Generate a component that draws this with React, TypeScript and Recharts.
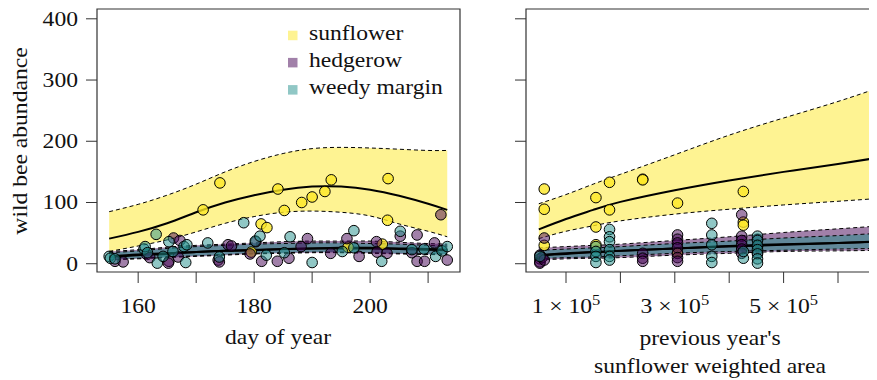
import React from 'react';
import { ComposedChart, Area, Line, Scatter, XAxis, YAxis, ReferenceArea } from 'recharts';

// ---------- colours ----------
const SUN = '#FDE725';
const HEDGE = '#440154';
const WEEDY = '#21908C';

// ---------- left panel: curves over day of year ----------
const dayGrid = [155, 160, 165, 170, 175, 180, 185, 190, 195, 200, 205, 210, 213.3];
const daySunFit = [41, 52, 66, 84, 100, 112, 121, 126, 126, 121, 111, 98, 88];
const daySunLo = [20, 29, 39, 52, 66, 77, 84, 86, 84, 78, 65, 53, 44];
const daySunHi = [85, 97, 112, 130, 150, 167, 180, 188, 190, 189, 187, 185, 185];
const dayHedgeFit = [12, 15, 17, 19, 21, 23, 24, 25, 26, 26, 25, 24, 23];
const dayHedgeLo = [6, 8, 10, 12, 14, 16, 17, 18, 18, 17, 16, 15, 15];
const dayHedgeHi = [20, 23, 27, 30, 32, 34, 36, 37, 37, 37, 35, 33, 32];
const dayWeedyFit = [11, 14, 16, 19, 21, 22, 24, 25, 25, 25, 24, 23, 22];
const dayWeedyLo = [7, 9, 11, 13, 15, 17, 18, 19, 19, 18, 17, 16, 16];
const dayWeedyHi = [18, 21, 25, 28, 30, 32, 33, 34, 34, 33, 32, 30, 29];

// ---------- left panel: observations (day, abundance) ----------
const daySunPts = [
  [174.1, 132], [184.1, 122], [193.3, 137], [203.1, 139], [192.2, 118], [190, 109], [188.2, 100],
  [171.2, 88], [185.2, 87], [203, 71], [181.2, 65], [182.2, 59], [179.5, 19], [202.1, 32], [196.2, 27],
];
const dayHedgePts = [
  [156, 4], [157.4, 3], [161.5, 15], [162, 10], [165.3, 4], [165.2, 1], [166.1, 42], [167.2, 38],
  [166.9, 11], [173.8, 6], [174, 3], [175.5, 31], [176.1, 29], [179.3, 16], [180.3, 36], [181.3, 4],
  [184, 4], [186, 9], [188.1, 28], [189.2, 41], [193.2, 17], [196, 41], [198.1, 12], [201.1, 36],
  [201.2, 19], [202.9, 17], [205.2, 45], [208.1, 47], [207.2, 18], [208.1, 4], [209.4, 4], [211.1, 34],
  [213.3, 6], [212.2, 80],
];
const dayWeedyPts = [
  [155, 12], [155.2, 9], [156, 8], [161, 24], [161.2, 28], [161.6, 18], [163.3, 1], [163.1, 48],
  [164.3, 12], [165.3, 36], [166, 20], [167.9, 28], [168.4, 31], [168.2, 2], [172, 34], [174, 11],
  [178.2, 67], [180.2, 37], [181, 45], [182.1, 14], [185.2, 18], [186.2, 44], [190, 2], [195.2, 20],
  [197.2, 54], [197.2, 26], [202, 4], [205.2, 53], [207.2, 23], [209.3, 24], [211.3, 12], [212.4, 21],
  [213.3, 28],
];

// ---------- right panel: curves over previous year's sunflower area ----------
const areaGrid = [50000, 100000, 150000, 200000, 300000, 400000, 500000, 600000, 680000];
const areaSunFit = [56, 73, 88, 101, 120, 136, 150, 163, 174];
const areaSunLo = [41, 53, 62, 70, 81, 89, 96, 102, 107];
const areaSunHi = [98, 113, 130, 146, 178, 210, 238, 265, 289];
const areaHedgeFit = [14, 17, 19, 21, 25, 29, 32, 34, 37];
const areaHedgeLo = [6, 8, 9, 10, 14, 17, 20, 21, 22];
const areaHedgeHi = [26, 28, 30, 32, 38, 44, 51, 57, 62];
const areaWeedyFit = [14, 16, 19, 21, 25, 28, 31, 34, 36];
const areaWeedyLo = [8, 10, 11, 13, 17, 20, 22, 24, 25];
const areaWeedyHi = [22, 24, 26, 28, 33, 37, 42, 46, 50];

// ---------- right panel: observations (area, abundance) ----------
const areaSunPts = [
  [60000, 122], [60000, 89], [60000, 30], [155000, 108], [155000, 60], [155000, 31], [180000, 133],
  [180000, 88], [241000, 138], [241000, 137], [305000, 99], [305000, 17], [426000, 118], [426000, 68],
  [426000, 63],
];
const areaHedgePts = [
  [52000, 14], [52000, 8], [52000, 3], [52000, 1], [56000, 10], [60000, 42], [60000, 6],
  [241000, 17], [241000, 9], [241000, 4], [305000, 47], [305000, 40], [305000, 34], [305000, 26],
  [305000, 17], [305000, 10], [305000, 4], [423000, 80], [423000, 45], [423000, 38], [423000, 31],
  [423000, 24], [423000, 17], [452000, 40], [452000, 28], [452000, 18],
];
const areaWeedyPts = [
  [52000, 12], [155000, 28], [155000, 20], [155000, 12], [155000, 2], [180000, 56], [180000, 44],
  [180000, 36], [180000, 23], [180000, 12], [180000, 6], [368000, 66], [368000, 47], [368000, 31],
  [368000, 12], [368000, 2], [426000, 9], [426000, 20], [452000, 45], [452000, 38], [452000, 30],
  [452000, 23], [452000, 16], [452000, 8], [452000, 1], [668000, 56], [668000, 42], [668000, 28],
  [668000, 17], [668000, 9],
];

// ---------- ticks & labels ----------
const yTicks = [0, 100, 200, 300, 400];
const dayTicks = [160, 170, 180, 190, 200, 210];
const dayLabelled = [160, 180, 200];
const areaTicks = [100000, 200000, 300000, 400000, 500000, 600000, 700000];
const areaLabelled = [100000, 300000, 500000];
const legendItems = [
  { label: 'sunflower', color: SUN },
  { label: 'hedgerow', color: HEDGE },
  { label: 'weedy margin', color: WEEDY },
];

const Y_DOMAIN: [number, number] = [-13.5, 416];
const DAY_DOMAIN: [number, number] = [152.9, 215.5];
const AREA_DOMAIN: [number, number] = [26470, 702940];

const FONT = '"Liberation Serif", "Times New Roman", serif';
const FS = 20;
const SX = 1.18;

function buildCurves(grid: number[], s: number[][]) {
  return grid.map((x, i) => ({
    x,
    sunFit: s[0][i], sunLo: s[1][i], sunHi: s[2][i],
    hedgeFit: s[3][i], hedgeLo: s[4][i], hedgeHi: s[5][i],
    weedyFit: s[6][i], weedyLo: s[7][i], weedyHi: s[8][i],
  }));
}
const dayCurves = buildCurves(dayGrid, [daySunFit, daySunLo, daySunHi, dayHedgeFit, dayHedgeLo, dayHedgeHi, dayWeedyFit, dayWeedyLo, dayWeedyHi]);
const areaCurves = buildCurves(areaGrid, [areaSunFit, areaSunLo, areaSunHi, areaHedgeFit, areaHedgeLo, areaHedgeHi, areaWeedyFit, areaWeedyLo, areaWeedyHi]);
const toXY = (pts: number[][]) => pts.map(([x, y]) => ({ x, y }));

function ValTick(props: any) {
  const { x, y, payload } = props;
  return (
    <text transform={`translate(${x - 6},${y + 7}) scale(${SX},1)`} textAnchor="end" fontFamily={FONT} fontSize={FS} fill="#111">
      {payload.value}
    </text>
  );
}
function EmptyTick() {
  return <g />;
}
function DayTick(props: any) {
  const { x, y, payload } = props;
  if (!dayLabelled.includes(payload.value)) return <g />;
  return (
    <text transform={`translate(${x},${y + 27.5}) scale(${SX},1)`} textAnchor="middle" fontFamily={FONT} fontSize={FS} fill="#111">
      {payload.value}
    </text>
  );
}
function AreaTick(props: any) {
  const { x, y, payload } = props;
  if (!areaLabelled.includes(payload.value)) return <g />;
  const m = Math.round(payload.value / 100000);
  return (
    <text transform={`translate(${x},${y + 27.5}) scale(${SX},1)`} textAnchor="middle" fontFamily={FONT} fontSize={FS} fill="#111">
      {`${m} × 10`}
      <tspan dy={-8} fontSize={14}>5</tspan>
    </text>
  );
}

function Dot(color: string, opacity: number) {
  return (p: any) => (
    <circle cx={p.cx} cy={p.cy} r={5.3} fill={color} fillOpacity={opacity} stroke="#000" strokeWidth={1} />
  );
}

function Panel(props: {
  data: any[]; domain: [number, number]; ticks: number[]; tick: any; yTick: any; yWidth: number;
  width: number; right: number; sunPts: number[][]; hedgePts: number[][]; weedyPts: number[][];
}) {
  const { data, domain, ticks, tick, yTick, yWidth, width, right, sunPts, hedgePts, weedyPts } = props;
  const dash = '4 3';
  const ct = 'natural';
  return (
    <ComposedChart width={width} height={372} data={data} margin={{ top: 1, right, bottom: 0, left: 0 }}>
      <XAxis dataKey="x" type="number" domain={domain} allowDataOverflow ticks={ticks} interval={0}
        tickSize={11} height={108} axisLine={false} tickLine={{ stroke: '#333' }} tick={tick} />
      <YAxis type="number" domain={Y_DOMAIN} allowDataOverflow ticks={yTicks} interval={0}
        tickSize={11} width={yWidth} axisLine={false} tickLine={{ stroke: '#333' }} tick={yTick} />
      <Area type={ct} dataKey={(d: any) => [d.sunLo, d.sunHi]} fill={SUN} fillOpacity={0.5} stroke="none" isAnimationActive={false} />
      <Area type={ct} dataKey={(d: any) => [d.hedgeLo, d.hedgeHi]} fill={HEDGE} fillOpacity={0.5} stroke="none" isAnimationActive={false} />
      <Area type={ct} dataKey={(d: any) => [d.weedyLo, d.weedyHi]} fill={WEEDY} fillOpacity={0.5} stroke="none" isAnimationActive={false} />
      <Line type={ct} dataKey="sunLo" stroke="#000" strokeWidth={1} strokeDasharray={dash} dot={false} activeDot={false} isAnimationActive={false} />
      <Line type={ct} dataKey="sunHi" stroke="#000" strokeWidth={1} strokeDasharray={dash} dot={false} activeDot={false} isAnimationActive={false} />
      <Line type={ct} dataKey="hedgeLo" stroke="#000" strokeWidth={1} strokeDasharray={dash} dot={false} activeDot={false} isAnimationActive={false} />
      <Line type={ct} dataKey="hedgeHi" stroke="#000" strokeWidth={1} strokeDasharray={dash} dot={false} activeDot={false} isAnimationActive={false} />
      <Line type={ct} dataKey="weedyLo" stroke="#000" strokeWidth={1} strokeDasharray={dash} dot={false} activeDot={false} isAnimationActive={false} />
      <Line type={ct} dataKey="weedyHi" stroke="#000" strokeWidth={1} strokeDasharray={dash} dot={false} activeDot={false} isAnimationActive={false} />
      <Line type={ct} dataKey="sunFit" stroke="#000" strokeWidth={2} dot={false} activeDot={false} isAnimationActive={false} />
      <Line type={ct} dataKey="hedgeFit" stroke="#000" strokeWidth={2} dot={false} activeDot={false} isAnimationActive={false} />
      <Line type={ct} dataKey="weedyFit" stroke="#000" strokeWidth={2} dot={false} activeDot={false} isAnimationActive={false} />
      <Scatter data={toXY(sunPts)} dataKey="y" shape={Dot(SUN, 0.8)} isAnimationActive={false} />
      <Scatter data={toXY(hedgePts)} dataKey="y" shape={Dot(HEDGE, 0.5)} isAnimationActive={false} />
      <Scatter data={toXY(weedyPts)} dataKey="y" shape={Dot(WEEDY, 0.5)} isAnimationActive={false} />
      <ReferenceArea x1={domain[0]} x2={domain[1]} y1={Y_DOMAIN[0]} y2={Y_DOMAIN[1]} fill="none" stroke="#333" strokeWidth={1.2} ifOverflow="visible" />
    </ComposedChart>
  );
}

export default function App() {
  const txt = (s: string, x: number, y: number, anchor: string, rot = false) => (
    <text transform={`translate(${x},${y})${rot ? ' rotate(-90)' : ''} scale(${SX},1)`} textAnchor={anchor}
      fontFamily={FONT} fontSize={FS} fill="#111">{s}</text>
  );
  return (
    <div style={{ position: 'relative', width: 869, height: 372, overflow: 'hidden', background: '#fff' }}>
      <div style={{ position: 'absolute', left: 0, top: 0 }}>
        <Panel data={dayCurves} domain={DAY_DOMAIN} ticks={dayTicks} tick={<DayTick />} yTick={<ValTick />}
          yWidth={89} width={460} right={8} sunPts={daySunPts} hedgePts={dayHedgePts} weedyPts={dayWeedyPts} />
      </div>
      <div style={{ position: 'absolute', left: 440, top: 0 }}>
        <Panel data={areaCurves} domain={AREA_DOMAIN} ticks={areaTicks} tick={<AreaTick />} yTick={<EmptyTick />}
          yWidth={78} width={460} right={14} sunPts={areaSunPts} hedgePts={areaHedgePts} weedyPts={areaWeedyPts} />
      </div>
      <svg width={869} height={372} style={{ position: 'absolute', left: 0, top: 0, pointerEvents: 'none' }}>
        {txt('wild bee abundance', 19, 133, 'middle', true)}
        {txt('day of year', 270, 336, 'middle')}
        {txt("previous year's", 702, 337, 'middle')}
        {txt('sunflower weighted area', 702, 365, 'middle')}
        {legendItems.map((it, i) => (
          <g key={it.label}>
            <rect x={280} y={22.7 + i * 27.2} width={9.5} height={9.5} fill={it.color} fillOpacity={0.5} />
            {txt(it.label, 301, 32 + i * 27.2, 'start')}
          </g>
        ))}
      </svg>
    </div>
  );
}
